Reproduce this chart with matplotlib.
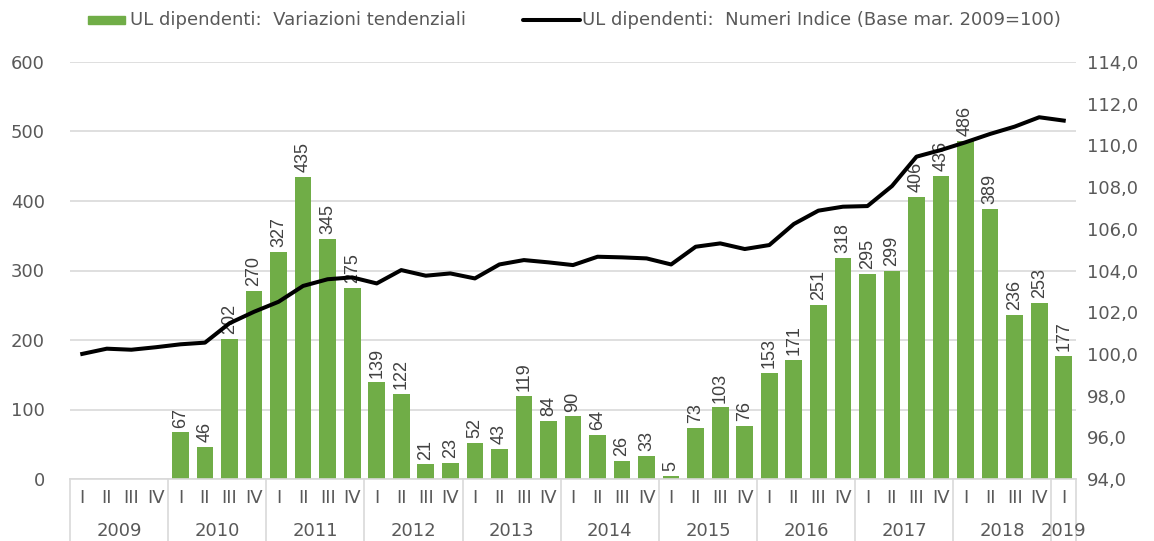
import matplotlib.pyplot as plt
import matplotlib.transforms as mtransforms
from matplotlib.lines import Line2D
from matplotlib.patches import Rectangle
import numpy as np

plt.rcParams['font.family'] = ['DejaVu Sans']

# --- data ---
years = ['2009', '2010', '2011', '2012', '2013', '2014', '2015', '2016', '2017', '2018', '2019']
quarters = ['I', 'II', 'III', 'IV']
n_quarters = 41  # 2009 Q1 .. 2019 Q1

# tendential variations (bars), none for 2009
variazioni = [None, None, None, None,
              67, 46, 202, 270,
              327, 435, 345, 275,
              139, 122, 21, 23,
              52, 43, 119, 84,
              90, 64, 26, 33,
              5, 73, 103, 76,
              153, 171, 251, 318,
              295, 299, 406, 436,
              486, 389, 236, 253,
              177]

# index numbers (base Mar. 2009 = 100)
indice = [100.0, 100.25, 100.2, 100.32,
          100.46, 100.54, 101.47, 102.02,
          102.5, 103.26, 103.58, 103.67,
          103.38, 104.02, 103.75, 103.86,
          103.62, 104.29, 104.5, 104.39,
          104.26, 104.66, 104.63, 104.58,
          104.29, 105.14, 105.3, 105.03,
          105.22, 106.23, 106.87, 107.06,
          107.09, 108.05, 109.46, 109.78,
          110.15, 110.55, 110.9, 111.35,
          111.19]

legend_labels = ['UL dipendenti:  Variazioni tendenziali',
                 'UL dipendenti:  Numeri Indice (Base mar. 2009=100)']

green = '#70AD47'
grid_c = '#D9D9D9'
txt_c = '#595959'
lab_c = '#404040'
fs = 13

W, H = 1154, 541
fig = plt.figure(figsize=(W / 100, H / 100), dpi=100)
ax = fig.add_axes([70 / W, 1 - 479 / H, (1076 - 70) / W, 417 / H])
ax2 = ax.twinx()

x = np.arange(n_quarters)
bx = [i for i, v in enumerate(variazioni) if v is not None]
bv = [v for v in variazioni if v is not None]

ax.bar(bx, bv, width=0.68, color=green, zorder=2)
for xi, v in zip(bx, bv):
    ax.annotate(str(v), (xi, v), xytext=(0, 3.5), textcoords='offset points',
                rotation=90, ha='center', va='bottom', fontsize=13,
                family=['Liberation Sans', 'DejaVu Sans'], color=lab_c, zorder=3)

ax.set_xlim(-0.5, n_quarters - 0.5)
ax.set_ylim(0, 600)
ax.set_yticks(range(0, 601, 100))
ax.yaxis.grid(True, color=grid_c, lw=1.2)
ax.set_axisbelow(True)
ax.tick_params(axis='y', length=0, pad=18, labelsize=fs, labelcolor=txt_c)
for s in ['top', 'right', 'left']:
    ax.spines[s].set_visible(False)
ax.spines['bottom'].set_color(grid_c)
ax.spines['bottom'].set_linewidth(1.2)

# category axis: quarters + years
ax.set_xticks(x)
ax.set_xticklabels([quarters[i % 4] for i in x])
ax.tick_params(axis='x', length=0, pad=7, labelsize=fs, labelcolor=txt_c)

trans = mtransforms.blended_transform_factory(ax.transData, ax.transAxes)
for k, yr in enumerate(years):
    start = 4 * k
    end = min(start + 3, n_quarters - 1)
    ax.text((start + end) / 2, -52 / 417, yr, transform=trans, ha='center',
            va='center', fontsize=fs, color=txt_c)
sep = [4 * k - 0.5 for k in range(len(years))] + [n_quarters - 0.5]
for s in sep:
    ax.add_line(Line2D([s, s], [0, -0.16], transform=trans, color=grid_c,
                       lw=1.2, clip_on=False))

ax2.plot(x, indice, color='black', lw=2.9, zorder=4, solid_joinstyle='round')
ax2.set_ylim(94, 114)
ax2.set_yticks(np.arange(94, 115, 2))
ax2.set_yticklabels([f'{t:.1f}'.replace('.', ',') for t in np.arange(94, 115, 2)])
ax2.tick_params(axis='y', length=0, pad=8, labelsize=fs, labelcolor=txt_c)
for s in ['top', 'right', 'left', 'bottom']:
    ax2.spines[s].set_visible(False)

# legend drawn by hand to match the spacing of the original
ly = 1 - 20 / H
fig.patches.append(Rectangle((88 / W, ly - 3.5 / H), 37 / W, 7 / H,
                             transform=fig.transFigure, color=green))
fig.text(130 / W, ly, legend_labels[0], ha='left', va='center', fontsize=fs, color=txt_c)
fig.add_artist(Line2D([523 / W, 580 / W], [ly, ly], transform=fig.transFigure,
                      color='black', lw=2.9, solid_capstyle='round'))
fig.text(582 / W, ly, legend_labels[1], ha='left', va='center', fontsize=fs, color=txt_c)

fig.savefig('out.png', dpi=100)
